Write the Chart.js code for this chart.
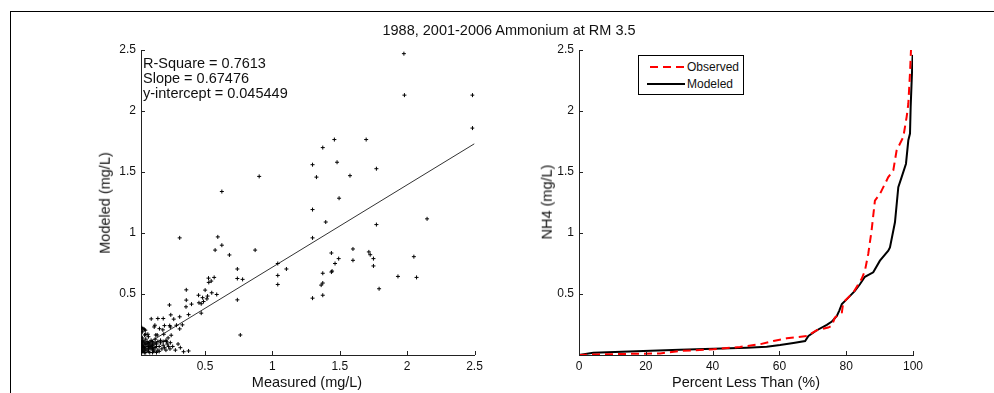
<!DOCTYPE html>
<html>
<head>
<meta charset="utf-8">
<script src="https://cdn.jsdelivr.net/npm/chart.js@4.4.1/dist/chart.umd.min.js"></script>
<style>
  html, body { margin: 0; padding: 0; background: #fff; width: 994px; height: 393px; overflow: hidden;
    font-family: "Liberation Sans", Arial, sans-serif; color: #111; }
  .frame { position: absolute; left: 10px; top: 11px; width: 1100px; height: 500px;
    border-left: 1px solid #000; border-top: 1px solid #000; }
  .plot { position: absolute; }
  .txt { position: absolute; white-space: nowrap; font-size: 14.5px; line-height: 1; }
  .c { transform: translate(-50%, -50%); }
  .rot { transform: translate(-50%, -50%) rotate(-90deg); }
  .note { position: absolute; left: 143px; top: 56px; font-size: 14.5px; line-height: 15px; white-space: nowrap; }
  .legend { position: absolute; left: 638px; top: 55px; width: 106px; height: 40px; box-sizing: border-box;
    border: 1px solid #000; background: #fff; font-size: 12px; }
  .legend svg { position: absolute; left: 0; top: 0; }
  .legend span { position: absolute; left: 48px; line-height: 1; transform: translateY(-50%); }
</style>
</head>
<body>
<div class="frame"></div>

<div class="plot" style="left:80px; top:30px; width:420px; height:363px;"><canvas id="scatterChart"></canvas></div>
<div class="plot" style="left:520px; top:30px; width:474px; height:363px;"><canvas id="cdfChart"></canvas></div>

<div class="txt c" style="left:509px; top:30px;">1988, 2001-2006 Ammonium at RM 3.5</div>
<div class="txt c" style="left:307px; top:382px;">Measured (mg/L)</div>
<div class="txt c" style="left:746px; top:382px;">Percent Less Than (%)</div>
<div class="txt rot" style="left:105px; top:203px;">Modeled (mg/L)</div>
<div class="txt rot" style="left:547px; top:202px;">NH4 (mg/L)</div>

<div class="note">R-Square = 0.7613<br>Slope = 0.67476<br>y-intercept = 0.045449</div>

<div class="legend">
  <svg width="106" height="40">
    <line x1="11" y1="11" x2="47" y2="11" stroke="#ff0000" stroke-width="2" stroke-dasharray="8,5"></line>
    <line x1="8" y1="28" x2="46" y2="28" stroke="#000" stroke-width="2"></line>
  </svg>
  <span style="top:11px;">Observed</span>
  <span style="top:28px;">Modeled</span>
</div>

<script>
// ---- scatter: measured vs modeled (mg/L) ----
const measured = [
  1.976, 1.98, 2.485, 2.485, 1.46, 1.696, 1.374, 1.298, 1.48, 1.327, 1.576, 1.772, 1.495, 0.902, 0.625,
  1.298, 1.396, 1.298, 1.374, 1.374, 1.362, 1.298, 1.374, 0.312, 0.595, 0.625, 0.575, 0.681, 0.872, 0.74,
  0.74, 0.779, 0.74, 0.762, 1.04, 1.104, 1.04, 1.04, 1.772, 2.148, 1.438, 1.598, 1.716, 1.726, 1.75,
  1.75, 1.492, 1.465, 1.598, 1.443, 1.438, 2.05, 1.932, 2.07, 1.792,
  0.568, 0.526, 0.528, 0.546, 0.501, 0.587, 0.55, 0.519, 0.514, 0.452, 0.482, 0.489, 0.455, 0.472, 0.361,
  0.361, 0.40, 0.359, 0.236, 0.472, 0.378, 0.312, 0.246, 0.268, 0.101, 0.15, 0.19, 0.128, 0.123, 0.199,
  0.238, 0.243, 0.288, 0.332, 0.312, 0.162, 0.187, 0.039, 0.057, 0.076, 0.052, 0.135, 0.145, 0.194, 0.249,
  0.226, 0.214, 0.243, 0.317, 0.341, 0.378, 0.03,
  0.03, 0.035, 0.03, 0.035, 0.04, 0.05, 0.06, 0.04, 0.07, 0.08, 0.035, 0.09, 0.10, 0.11, 0.12,
  0.13, 0.14, 0.15, 0.16, 0.05, 0.06, 0.07, 0.08, 0.09, 0.10, 0.11, 0.12, 0.13, 0.17, 0.18,
  0.19, 0.20, 0.21, 0.22, 0.23, 0.24, 0.035, 0.03, 0.04, 0.05, 0.06, 0.07, 0.08, 0.09, 0.10,
  0.11, 0.12, 0.14, 0.15, 0.16, 0.03, 0.03, 0.04, 0.045, 0.04, 0.05, 0.06, 0.07, 0.08, 0.09,
  0.10, 0.11, 0.12, 0.13, 0.14, 0.03, 0.035, 0.05, 0.06, 0.08, 0.17, 0.19, 0.26, 0.28, 0.30, 0.21
];
const modeled = [
  2.47, 2.13, 2.13, 1.86, 1.766, 1.766, 1.70, 1.56, 1.58, 1.458, 1.47, 1.527, 1.285, 1.464, 1.34,
  1.192, 1.09, 0.96, 0.67, 0.59, 0.573, 0.466, 0.49, 0.96, 0.968, 0.90, 0.86, 0.82, 0.86, 0.705,
  0.627, 0.62, 0.452, 0.164, 0.75, 0.705, 0.652, 0.578, 1.069, 1.116, 0.836, 0.869, 0.845, 0.822, 0.79,
  0.73, 0.79, 0.75, 0.776, 0.688, 0.68, 0.806, 0.644, 0.636, 0.543,
  0.636, 0.63, 0.595, 0.606, 0.532, 0.496, 0.51, 0.483, 0.46, 0.49, 0.47, 0.438, 0.428, 0.42, 0.534,
  0.45, 0.417, 0.395, 0.41, 0.343, 0.331, 0.313, 0.329, 0.294, 0.296, 0.299, 0.299, 0.244, 0.23, 0.241,
  0.241, 0.23, 0.244, 0.247, 0.214, 0.216, 0.206, 0.216, 0.203, 0.17, 0.164, 0.164, 0.164, 0.17, 0.162,
  0.14, 0.11, 0.101, 0.06, 0.027, 0.033, 0.225,
  0.02, 0.05, 0.08, 0.11, 0.03, 0.06, 0.09, 0.12, 0.04, 0.07, 0.14, 0.10, 0.05, 0.08, 0.03,
  0.06, 0.09, 0.04, 0.07, 0.02, 0.05, 0.11, 0.03, 0.06, 0.12, 0.02, 0.09, 0.13, 0.10, 0.05,
  0.08, 0.06, 0.04, 0.09, 0.07, 0.05, 0.08, 0.04, 0.07, 0.10, 0.13, 0.07, 0.10, 0.02, 0.09,
  0.11, 0.06, 0.02, 0.11, 0.03, 0.06, 0.10, 0.03, 0.06, 0.09, 0.04, 0.02, 0.09, 0.05, 0.08,
  0.07, 0.05, 0.04, 0.10, 0.07, 0.22, 0.19, 0.21, 0.17, 0.15, 0.12, 0.11, 0.07, 0.04, 0.09, 0.12
];
// fitted line end points (slope 0.67476, intercept 0.045449)
const fitMeasured = [0.025, 2.5];
const fitModeled = [0.062, 1.732];

// ---- cumulative distributions: percent less than vs NH4 (mg/L) ----
const obsPercent = [0, 5.3, 24.3, 30.2, 40.2, 48.2, 54.2, 58.2, 62.2, 68.2, 71.2, 74.6, 75.7, 76.6, 78.7,
  79.1, 82.1, 84.6, 85.6, 86.6, 87.6, 88.6, 90.1, 92.6, 94.1, 95.1, 97.1, 98.1, 98.6, 99.1, 99.4];
const obsNH4 = [0, 0.005, 0.013, 0.033, 0.047, 0.066, 0.088, 0.115, 0.137, 0.156, 0.203, 0.225, 0.24, 0.307, 0.348,
  0.43, 0.512, 0.622, 0.69, 0.828, 1.02, 1.266, 1.32, 1.458, 1.513, 1.678, 1.787, 1.952, 2.06, 2.31, 2.5];
const modPercent = [0, 4.3, 19.3, 30.2, 40.2, 50.2, 56.2, 60.2, 64.2, 67.7, 68.7, 71.2, 74.2, 75.7, 77.2,
  77.9, 78.7, 80.2, 82.6, 84.1, 85.6, 88.1, 90.1, 92.6, 93.1, 94.6, 95.6, 96.6, 97.9, 98.6, 99.1, 99.3, 99.9];
const modNH4 = [0, 0.019, 0.033, 0.044, 0.052, 0.06, 0.068, 0.082, 0.099, 0.115, 0.156, 0.203, 0.247, 0.274, 0.32,
  0.362, 0.417, 0.458, 0.526, 0.58, 0.641, 0.678, 0.773, 0.855, 0.882, 1.088, 1.376, 1.458, 1.568, 1.76, 1.815, 2.034, 2.46];

// ---- tick labels ----
const scatterXTicks = [0.5, 1, 1.5, 2, 2.5];
const scatterYTicks = [0.5, 1, 1.5, 2, 2.5];
const cdfXTicks = [0, 20, 40, 60, 80, 100];
const cdfYTicks = [0.5, 1, 1.5, 2, 2.5];

const toPoints = (xs, ys) => xs.map((x, i) => ({ x: x, y: ys[i] }));
const tickFont = { family: '"Liberation Sans", Arial, sans-serif', size: 12 };

// MATLAB style tick marks pointing into the plot
const inwardTicks = {
  id: 'inwardTicks',
  afterDraw(chart) {
    const { ctx, chartArea, scales } = chart;
    ctx.save();
    ctx.strokeStyle = '#222';
    ctx.lineWidth = 1;
    ctx.beginPath();
    scales.x.ticks.forEach(t => {
      const px = Math.round(scales.x.getPixelForValue(t.value)) + 0.5;
      ctx.moveTo(px, chartArea.bottom);
      ctx.lineTo(px, chartArea.bottom - 4);
    });
    scales.y.ticks.forEach(t => {
      const py = Math.round(scales.y.getPixelForValue(t.value)) + 0.5;
      ctx.moveTo(chartArea.left, py);
      ctx.lineTo(chartArea.left + 4, py);
    });
    ctx.stroke();
    ctx.restore();
  }
};

function axis(min, max, tickList, fitSize, horizontal) {
  return {
    type: 'linear',
    min: min,
    max: max,
    grid: { display: false, drawTicks: false },
    border: { display: true, color: '#222', width: 1 },
    ticks: {
      color: '#111', font: tickFont, padding: horizontal ? 4 : 5, maxRotation: 0, autoSkip: false,
      callback: (v) => String(v)
    },
    afterBuildTicks: (s) => { s.ticks = tickList.map(v => ({ value: v })); },
    afterFit: (s) => { if (horizontal) { s.height = fitSize; } else { s.width = fitSize; } }
  };
}

new Chart(document.getElementById('scatterChart'), {
  type: 'scatter',
  data: {
    datasets: [{
      data: toPoints(measured, modeled),
      pointStyle: 'cross',
      pointRadius: 2,
      borderColor: '#000',
      borderWidth: 1,
      backgroundColor: '#000'
    }, {
      data: toPoints(fitMeasured, fitModeled),
      showLine: true,
      borderColor: '#333',
      borderWidth: 1,
      pointRadius: 0
    }]
  },
  options: {
    responsive: true,
    maintainAspectRatio: false,
    animation: false,
    layout: { padding: { top: 20, right: 25.5, bottom: 0, left: 0 } },
    plugins: { legend: { display: false }, tooltip: { enabled: false } },
    scales: {
      x: axis(0.025, 2.5, scatterXTicks, 38, true),
      y: axis(0, 2.5, scatterYTicks, 61, false)
    }
  },
  plugins: [inwardTicks]
});

new Chart(document.getElementById('cdfChart'), {
  type: 'line',
  data: {
    datasets: [{
      label: 'Observed',
      data: toPoints(obsPercent, obsNH4),
      borderColor: '#ff0000',
      borderWidth: 2,
      borderDash: [8, 5],
      pointRadius: 0,
      tension: 0
    }, {
      label: 'Modeled',
      data: toPoints(modPercent, modNH4),
      borderColor: '#000',
      borderWidth: 2,
      pointRadius: 0,
      tension: 0
    }]
  },
  options: {
    responsive: true,
    maintainAspectRatio: false,
    animation: false,
    layout: { padding: { top: 20, right: 81, bottom: 0, left: 0 } },
    plugins: { legend: { display: false }, tooltip: { enabled: false } },
    scales: {
      x: axis(0, 100, cdfXTicks, 38, true),
      y: axis(0, 2.5, cdfYTicks, 59, false)
    }
  },
  plugins: [inwardTicks]
});
</script>
</body>
</html>
